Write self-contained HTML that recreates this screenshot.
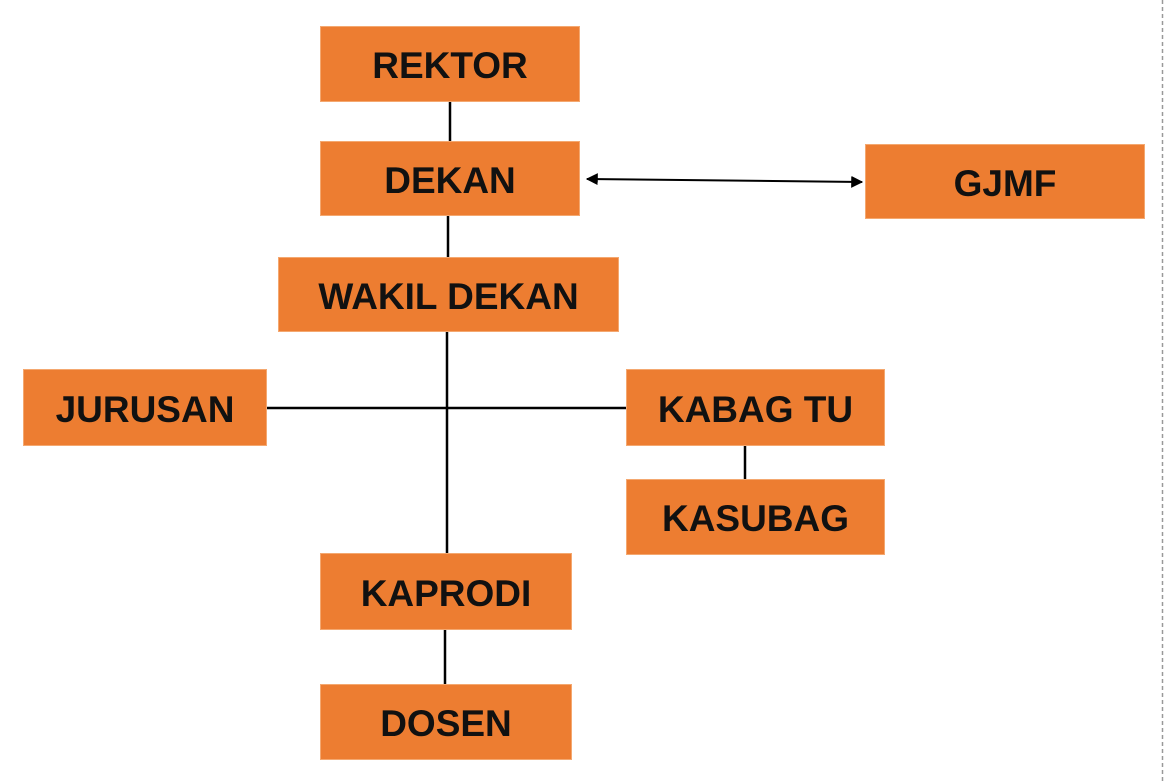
<!DOCTYPE html>
<html><head><style>
body{margin:0;width:1164px;height:784px;background:#fff;position:relative;overflow:hidden;font-family:"Liberation Sans",sans-serif}
.b{position:absolute;background:#ED7D31;color:#111;font-weight:bold;font-size:37px;display:flex;align-items:center;justify-content:center;box-sizing:border-box;border:1px solid #f4a870;padding-top:4px}
svg{position:absolute;left:0;top:0}
</style></head><body>
<svg width="1164" height="784">
<defs><marker id="a" viewBox="0 0 10 10" refX="9" refY="5" markerWidth="6" markerHeight="6" orient="auto-start-reverse"><path d="M0,0L10,5L0,10z" fill="#000"/></marker></defs>
<g stroke="#000" stroke-width="2.5">
<line x1="450" y1="102" x2="450" y2="141"/>
<line x1="448" y1="216" x2="448" y2="257"/>
<line x1="447" y1="332" x2="447" y2="553"/>
<line x1="267" y1="408" x2="626" y2="408"/>
<line x1="745" y1="446" x2="745" y2="479"/>
<line x1="445" y1="630" x2="445" y2="684"/>
<line x1="587" y1="179" x2="862" y2="182" stroke-width="2" marker-start="url(#a)" marker-end="url(#a)"/>
</g>
<line x1="1162.5" y1="0" x2="1162.5" y2="784" stroke="#999" stroke-width="1.5" stroke-dasharray="4,3"/>
</svg>
<div class="b" style="left:320px;top:26px;width:260px;height:76px">REKTOR</div>
<div class="b" style="left:320px;top:141px;width:260px;height:75px">DEKAN</div>
<div class="b" style="left:865px;top:144px;width:280px;height:75px">GJMF</div>
<div class="b" style="left:278px;top:257px;width:341px;height:75px">WAKIL DEKAN</div>
<div class="b" style="left:23px;top:369px;width:244px;height:77px">JURUSAN</div>
<div class="b" style="left:626px;top:369px;width:259px;height:77px">KABAG TU</div>
<div class="b" style="left:626px;top:479px;width:259px;height:76px">KASUBAG</div>
<div class="b" style="left:320px;top:553px;width:252px;height:77px">KAPRODI</div>
<div class="b" style="left:320px;top:684px;width:252px;height:76px">DOSEN</div>
</body></html>
